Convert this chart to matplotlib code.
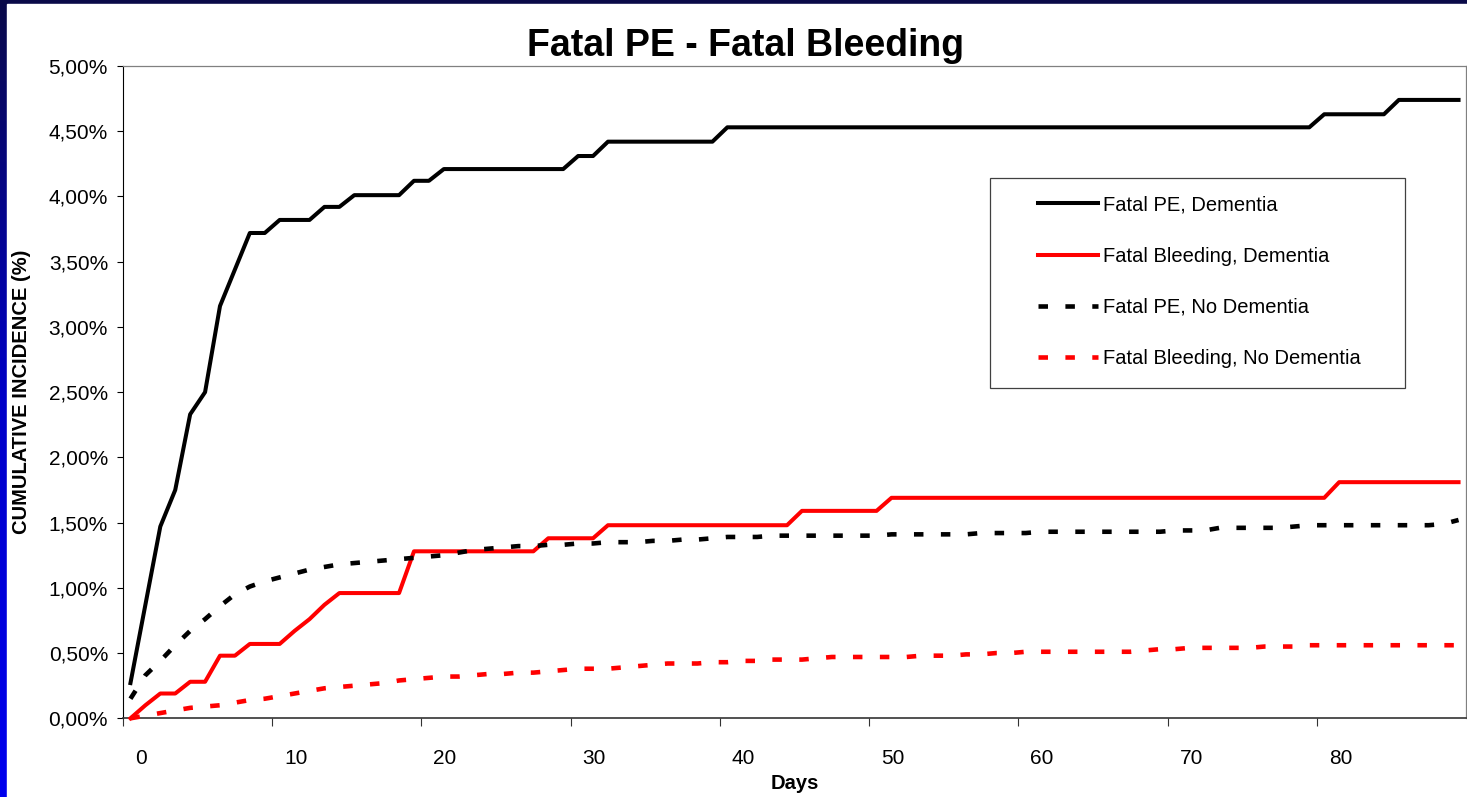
import numpy as np
import matplotlib
matplotlib.use("Agg")
import matplotlib.pyplot as plt
from matplotlib.patches import Rectangle

plt.rcParams['font.family'] = ['Liberation Sans', 'DejaVu Sans']

# ================= DATA =================
days = np.arange(90)  # one category per day

pe_dem = [0.27, 0.87, 1.47, 1.75, 2.33, 2.50, 3.16, 3.44, 3.72, 3.72,
          3.82, 3.82, 3.82, 3.92, 3.92, 4.01, 4.01, 4.01, 4.01, 4.12,
          4.12, 4.21, 4.21, 4.21, 4.21, 4.21, 4.21, 4.21, 4.21, 4.21,
          4.31, 4.31, 4.42, 4.42, 4.42, 4.42, 4.42, 4.42, 4.42, 4.42,
          4.53, 4.53, 4.53, 4.53, 4.53, 4.53, 4.53, 4.53, 4.53, 4.53,
          4.53, 4.53, 4.53, 4.53, 4.53, 4.53, 4.53, 4.53, 4.53, 4.53,
          4.53, 4.53, 4.53, 4.53, 4.53, 4.53, 4.53, 4.53, 4.53, 4.53,
          4.53, 4.53, 4.53, 4.53, 4.53, 4.53, 4.53, 4.53, 4.53, 4.53,
          4.63, 4.63, 4.63, 4.63, 4.63, 4.74, 4.74, 4.74, 4.74, 4.74]

bl_dem = [0.00, 0.10, 0.19, 0.19, 0.28, 0.28, 0.48, 0.48, 0.57, 0.57,
          0.57, 0.67, 0.76, 0.87, 0.96, 0.96, 0.96, 0.96, 0.96, 1.28,
          1.28, 1.28, 1.28, 1.28, 1.28, 1.28, 1.28, 1.28, 1.38, 1.38,
          1.38, 1.38, 1.48, 1.48, 1.48, 1.48, 1.48, 1.48, 1.48, 1.48,
          1.48, 1.48, 1.48, 1.48, 1.48, 1.59, 1.59, 1.59, 1.59, 1.59,
          1.59, 1.69, 1.69, 1.69, 1.69, 1.69, 1.69, 1.69, 1.69, 1.69,
          1.69, 1.69, 1.69, 1.69, 1.69, 1.69, 1.69, 1.69, 1.69, 1.69,
          1.69, 1.69, 1.69, 1.69, 1.69, 1.69, 1.69, 1.69, 1.69, 1.69,
          1.69, 1.81, 1.81, 1.81, 1.81, 1.81, 1.81, 1.81, 1.81, 1.81]

pe_nodem = [0.15, 0.33, 0.44, 0.56, 0.67, 0.76, 0.86, 0.95, 1.01, 1.05,
            1.08, 1.11, 1.14, 1.16, 1.18, 1.19, 1.20, 1.21, 1.22, 1.23,
            1.24, 1.25, 1.27, 1.29, 1.30, 1.31, 1.32, 1.32, 1.33, 1.33,
            1.34, 1.34, 1.35, 1.35, 1.35, 1.36, 1.36, 1.37, 1.37, 1.38,
            1.39, 1.39, 1.39, 1.40, 1.40, 1.40, 1.40, 1.40, 1.40, 1.40,
            1.40, 1.41, 1.41, 1.41, 1.41, 1.41, 1.41, 1.42, 1.42, 1.42,
            1.42, 1.43, 1.43, 1.43, 1.43, 1.43, 1.43, 1.43, 1.43, 1.43,
            1.44, 1.44, 1.44, 1.46, 1.46, 1.46, 1.46, 1.46, 1.47, 1.48,
            1.48, 1.48, 1.48, 1.48, 1.48, 1.48, 1.48, 1.48, 1.49, 1.52]

bl_nodem = [0.00, 0.02, 0.04, 0.06, 0.08, 0.09, 0.10, 0.12, 0.14, 0.15,
            0.17, 0.19, 0.21, 0.23, 0.24, 0.25, 0.26, 0.27, 0.29, 0.30,
            0.31, 0.32, 0.32, 0.33, 0.34, 0.34, 0.35, 0.35, 0.36, 0.37,
            0.38, 0.38, 0.38, 0.39, 0.40, 0.41, 0.42, 0.42, 0.42, 0.43,
            0.43, 0.44, 0.44, 0.45, 0.45, 0.45, 0.46, 0.47, 0.47, 0.47,
            0.47, 0.47, 0.47, 0.48, 0.48, 0.48, 0.49, 0.49, 0.50, 0.50,
            0.51, 0.51, 0.51, 0.51, 0.51, 0.51, 0.51, 0.51, 0.52, 0.53,
            0.53, 0.54, 0.54, 0.54, 0.54, 0.54, 0.55, 0.55, 0.55, 0.56,
            0.56, 0.56, 0.56, 0.56, 0.56, 0.56, 0.56, 0.56, 0.56, 0.56]

labels = ["Fatal PE, Dementia", "Fatal Bleeding, Dementia",
          "Fatal PE, No Dementia", "Fatal Bleeding, No Dementia"]
xtick_labels = ["0", "10", "20", "30", "40", "50", "60", "70", "80"]
ytick_vals = [0.0, 0.5, 1.0, 1.5, 2.0, 2.5, 3.0, 3.5, 4.0, 4.5, 5.0]
ytick_labels = ["0,00%", "0,50%", "1,00%", "1,50%", "2,00%", "2,50%",
                "3,00%", "3,50%", "4,00%", "4,50%", "5,00%"]

# ================= FIGURE =================
W, H = 1467, 797
fig = plt.figure(figsize=(W / 100, H / 100), dpi=100)

# slide background: blue gradient strip on the left / top, white card
bg = fig.add_axes([0, 0, 1, 1], zorder=-10)
grad = np.linspace(0, 1, 256).reshape(-1, 1)
cmap = matplotlib.colors.LinearSegmentedColormap.from_list(
    "slide", ["#0a0a48", "#0000c8", "#0000ee"])
bg.imshow(grad, aspect="auto", cmap=cmap, extent=[0, 1, 0, 1], origin="upper")
bg.add_patch(Rectangle((7 / W, 0), 1, (H - 3.5) / H, color="white"))
bg.set_xlim(0, 1)
bg.set_ylim(0, 1)
bg.axis("off")

ax = fig.add_axes([123 / W, (H - 718.3) / H, (1466 - 123) / W, (718.3 - 66) / H])
ax.set_facecolor("white")

lw = 2.9
lw_d = 3.3
dash = (2.07, 3.8)
ax.plot(days, pe_dem, color="black", lw=lw, label=labels[0], clip_on=False, zorder=5)
ax.plot(days, bl_dem, color="#ff0000", lw=lw, label=labels[1], clip_on=False, zorder=5)
ax.plot(days, pe_nodem, color="black", lw=lw_d, dashes=dash, dash_capstyle="butt",
        label=labels[2], clip_on=False, zorder=5)
ax.plot(days, bl_nodem, color="#ff0000", lw=lw_d, dashes=dash, dash_capstyle="butt",
        label=labels[3], clip_on=False, zorder=5)

ax.set_xlim(-0.5, 89.5)
ax.set_ylim(0, 5)

# category axis: tick marks between groups of ten days, labels next to them
ax.set_xticks([-0.5 + 10 * k for k in range(9)])
ax.set_xticklabels([])
ax.set_xticks([0.3 + 10 * k for k in range(9)], minor=True)
ax.set_xticklabels(xtick_labels, minor=True, ha="left", fontsize=15)
ax.tick_params(axis="x", which="major", direction="out", length=5.8, width=0.8,
               color="#333333")
ax.tick_params(axis="x", which="minor", length=0, pad=22)

ax.set_yticks(ytick_vals)
ax.set_yticklabels(ytick_labels, fontsize=15)
ax.tick_params(axis="y", direction="out", length=4.3, width=0.8, pad=6.5)

for s in ["top", "right"]:
    ax.spines[s].set_color("#808080")
    ax.spines[s].set_linewidth(0.9)
ax.spines["left"].set_color("black")
ax.spines["left"].set_linewidth(0.8)
ax.spines["bottom"].set_color("#333333")
ax.spines["bottom"].set_linewidth(1.2)

# titles
fig.text(746 / W, (H - 56) / H, "Fatal PE - Fatal Bleeding", fontsize=27,
         fontweight="bold", ha="center", va="baseline")
fig.text(794.5 / W, (H - 789) / H, "Days", fontsize=14.5, fontweight="bold",
         ha="center", va="baseline")
fig.text(22 / W, (H - 392) / H, "CUMULATIVE INCIDENCE (%)", fontsize=14.5,
         fontweight="bold", rotation=90, ha="center", va="center")

# legend box (frame drawn separately, entries placed inside it)
ax.add_patch(Rectangle((990 / W, (H - 388) / H), 415 / W, 210 / H,
                       transform=fig.transFigure, facecolor="white",
                       edgecolor="#404040", lw=0.9, zorder=6, clip_on=False))
leg = ax.legend(loc="upper left", bbox_to_anchor=(1038 / W, (H - 195.5) / H),
                bbox_transform=fig.transFigure, frameon=False, fontsize=14.5,
                borderpad=0, borderaxespad=0, handlelength=2.98,
                handletextpad=0.25, labelspacing=1.60)
leg.set_zorder(7)

fig.savefig("out.png", dpi=100)
